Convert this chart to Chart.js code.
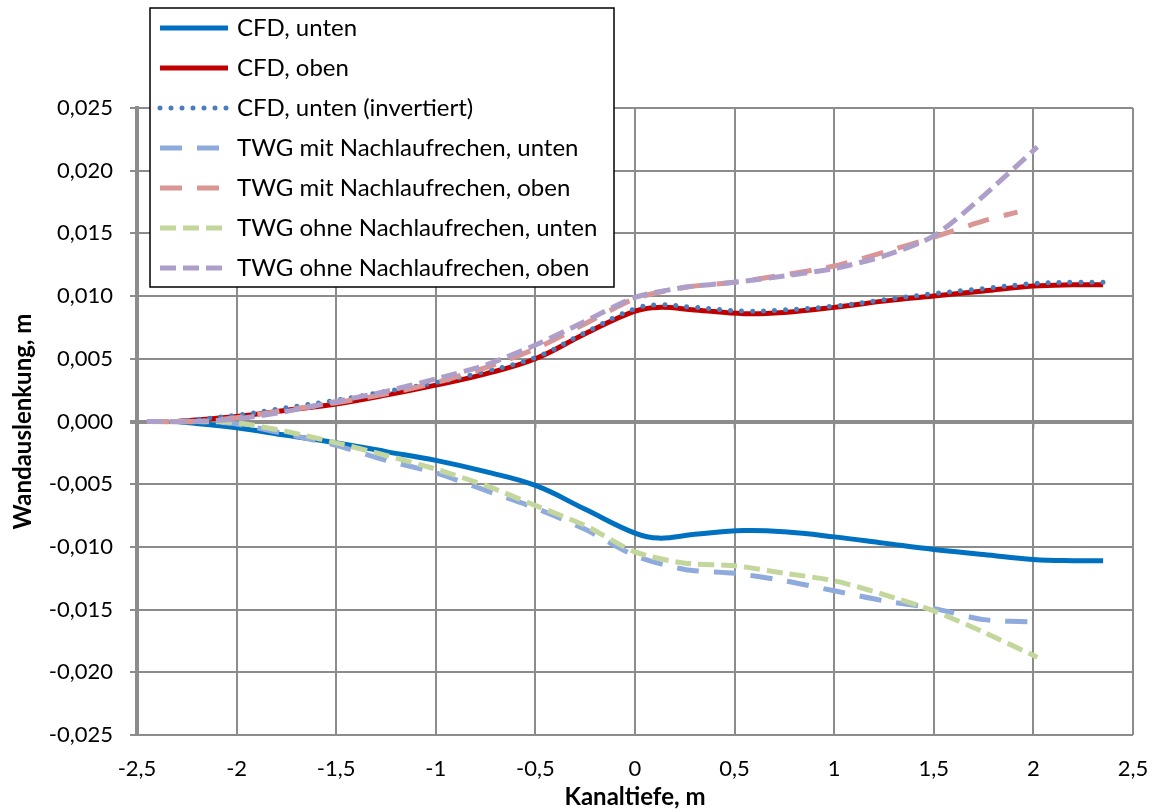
<!DOCTYPE html>
<html>
<head>
<meta charset="utf-8">
<script src="https://cdn.jsdelivr.net/npm/chart.js@4/dist/chart.umd.min.js"></script>
<style>
  html, body { margin: 0; padding: 0; background: #fff; }
  #wrap { width: 1156px; height: 812px; }
</style>
</head>
<body>
<div id="wrap"><canvas id="chart" width="1156" height="812"></canvas></div>
<script>
// x positions (Kanaltiefe, m)
const cfdX = [-2.3, -2.0, -1.75, -1.5, -1.25, -1.0, -0.75, -0.5, -0.25, 0.0, 0.12, 0.3, 0.55, 0.75, 1.0, 1.25, 1.5, 1.75, 2.0, 2.2, 2.35];
const twgX = [-2.45, -2.2, -2.0, -1.75, -1.5, -1.25, -1.0, -0.75, -0.5, -0.25, 0.0, 0.25, 0.5, 0.75, 1.0, 1.25, 1.5, 1.75, 2.02];
const twgMitObenX = [-2.45, -2.2, -2.0, -1.75, -1.5, -1.25, -1.0, -0.75, -0.5, -0.25, 0.0, 0.25, 0.5, 0.75, 1.0, 1.25, 1.5, 1.75, 1.92];

// Wandauslenkung, m
const cfdUnten = [0, -0.0005, -0.0011, -0.0017, -0.0024, -0.0031, -0.0040, -0.0051, -0.0070, -0.0089, -0.0093, -0.0090, -0.0087, -0.0088, -0.0092, -0.0097, -0.0102, -0.0106, -0.0110, -0.0111, -0.0111];
const cfdOben = [0, 0.0004, 0.0009, 0.0014, 0.0021, 0.0029, 0.0038, 0.0050, 0.0070, 0.0088, 0.0091, 0.0089, 0.0086, 0.0087, 0.0091, 0.0096, 0.0100, 0.0104, 0.0108, 0.0109, 0.0109];
const cfdUntenInv = [0, 0.0005, 0.0011, 0.0017, 0.0024, 0.0031, 0.0040, 0.0051, 0.0071, 0.0090, 0.0093, 0.0091, 0.0088, 0.0089, 0.0092, 0.0097, 0.0102, 0.0106, 0.0110, 0.0111, 0.0111];
const twgMitUnten = [0, 0, -0.0002, -0.0010, -0.0019, -0.0031, -0.0041, -0.0055, -0.0069, -0.0086, -0.0107, -0.0118, -0.0121, -0.0127, -0.0135, -0.0143, -0.0149, -0.0158, -0.0160];
const twgMitOben = [0, 0, 0.0003, 0.0009, 0.0015, 0.0022, 0.0031, 0.0043, 0.0058, 0.0078, 0.0098, 0.0107, 0.0111, 0.0117, 0.0124, 0.0135, 0.0147, 0.0160, 0.0167];
const twgOhneUnten = [0, 0, -0.0001, -0.0008, -0.0017, -0.0027, -0.0038, -0.0051, -0.0067, -0.0083, -0.0104, -0.0113, -0.0115, -0.0121, -0.0127, -0.0138, -0.0151, -0.0168, -0.0188];
const twgOhneOben = [0, 0, 0.0002, 0.0008, 0.0016, 0.0024, 0.0034, 0.0045, 0.0061, 0.0080, 0.0099, 0.0107, 0.0111, 0.0116, 0.0122, 0.0132, 0.0148, 0.0180, 0.0219];

const seriesLabels = [
  'CFD, unten',
  'CFD, oben',
  'CFD, unten (invertiert)',
  'TWG mit Nachlaufrechen, unten',
  'TWG mit Nachlaufrechen, oben',
  'TWG ohne Nachlaufrechen, unten',
  'TWG ohne Nachlaufrechen, oben'
];

const FONT = 'Lato';
const GRID = '#8c8c8c';

const toPoints = (xs, ys) => xs.map((x, i) => ({ x: x, y: ys[i] }));
const comma = (s) => String(s).replace('.', ',');

const styles = [
  { borderColor: '#0070C0', borderWidth: 5, tension: 0.4 },
  { borderColor: '#C00000', borderWidth: 5, tension: 0.4 },
  { borderColor: '#4A7EBB', borderWidth: 5, tension: 0.4, borderDash: [0, 11], borderCapStyle: 'round' },
  { borderColor: '#8FAADC', borderWidth: 5, tension: 0.25, borderDash: [22, 15] },
  { borderColor: '#D99694', borderWidth: 5, tension: 0.25, borderDash: [22, 15] },
  { borderColor: '#C3D69B', borderWidth: 5, tension: 0.25, borderDash: [16, 7] },
  { borderColor: '#AD9FC9', borderWidth: 5, tension: 0.25, borderDash: [16, 7] }
];

const seriesData = [
  toPoints(cfdX, cfdUnten),
  toPoints(cfdX, cfdOben),
  toPoints(cfdX, cfdUntenInv),
  toPoints(twgX, twgMitUnten),
  toPoints(twgMitObenX, twgMitOben),
  toPoints(twgX, twgOhneUnten),
  toPoints(twgX, twgOhneOben)
];

const datasets = seriesLabels.map((label, i) => Object.assign({
  label: label,
  data: seriesData[i],
  showLine: true,
  pointRadius: 0,
  fill: false,
  order: seriesLabels.length - i
}, styles[i]));

// legend box drawn over the plot, like the Excel original
const boxLegend = {
  id: 'boxLegend',
  beforeDatasetsDraw(chart) {
    // small tick marks below the zero line
    const ctx = chart.ctx;
    const xs = chart.scales.x;
    const y0 = chart.scales.y.getPixelForValue(0);
    ctx.save();
    ctx.strokeStyle = GRID;
    ctx.lineWidth = 2;
    xs.ticks.forEach(t => {
      const px = xs.getPixelForValue(t.value);
      ctx.beginPath();
      ctx.moveTo(px, y0);
      ctx.lineTo(px, y0 + 7);
      ctx.stroke();
    });
    ctx.restore();
  },
  afterDraw(chart) {
    const ctx = chart.ctx;
    const left = 150, top = 8, right = 614, bottom = 287;
    ctx.save();
    ctx.fillStyle = '#fff';
    ctx.fillRect(left, top, right - left, bottom - top);
    ctx.strokeStyle = '#000';
    ctx.lineWidth = 1.5;
    ctx.strokeRect(left, top, right - left, bottom - top);
    chart.data.datasets.forEach((ds, i) => {
      const y = 28 + i * 40;
      ctx.beginPath();
      ctx.strokeStyle = ds.borderColor;
      ctx.lineWidth = ds.borderWidth;
      ctx.lineCap = ds.borderCapStyle || 'butt';
      ctx.setLineDash(ds.borderDash || []);
      ctx.moveTo(160, y);
      ctx.lineTo(228, y);
      ctx.stroke();
      ctx.setLineDash([]);
      ctx.fillStyle = '#000';
      ctx.font = '24px ' + FONT;
      ctx.textBaseline = 'middle';
      ctx.textAlign = 'left';
      ctx.fillText(ds.label, 237, y);
    });
    ctx.restore();
  }
};

new Chart(document.getElementById('chart'), {
  type: 'scatter',
  data: { datasets: datasets },
  options: {
    responsive: false,
    animation: false,
    layout: { padding: { top: 108, right: 23, left: 0, bottom: 0 } },
    plugins: {
      legend: { display: false },
      tooltip: { enabled: false }
    },
    scales: {
      x: {
        type: 'linear',
        min: -2.5,
        max: 2.5,
        afterFit: (scale) => {
          scale.height = 77;
          scale.paddingLeft = 0;
          scale.paddingRight = 0;
        },
        border: { display: false },
        grid: { color: GRID, lineWidth: 2, drawTicks: false },
        ticks: {
          stepSize: 0.5,
          padding: 21,
          color: '#000',
          font: { family: FONT, size: 22 },
          callback: (v) => comma(Number(v.toFixed(1)))
        },
        title: {
          display: true,
          text: 'Kanaltiefe, m',
          color: '#000',
          font: { family: FONT, size: 24, weight: 'bold' },
          padding: { top: 0, bottom: 0 }
        }
      },
      y: {
        min: -0.025,
        max: 0.025,
        afterFit: (scale) => { scale.width = 137; },
        border: { display: true, color: GRID, width: 4 },
        grid: {
          color: GRID,
          lineWidth: (c) => (c.tick && Math.abs(c.tick.value) < 1e-9 ? 4 : 2),
          tickLength: 7
        },
        ticks: {
          stepSize: 0.005,
          padding: 17,
          color: '#000',
          font: { family: FONT, size: 22 },
          callback: (v) => (Math.abs(v) < 1e-9 ? '0,000' : comma(v.toFixed(3)))
        },
        title: {
          display: true,
          text: 'Wandauslenkung, m',
          color: '#000',
          font: { family: FONT, size: 24, weight: 'bold' },
          padding: { top: 9, bottom: 0 }
        }
      }
    }
  },
  plugins: [boxLegend]
});
</script>
</body>
</html>
